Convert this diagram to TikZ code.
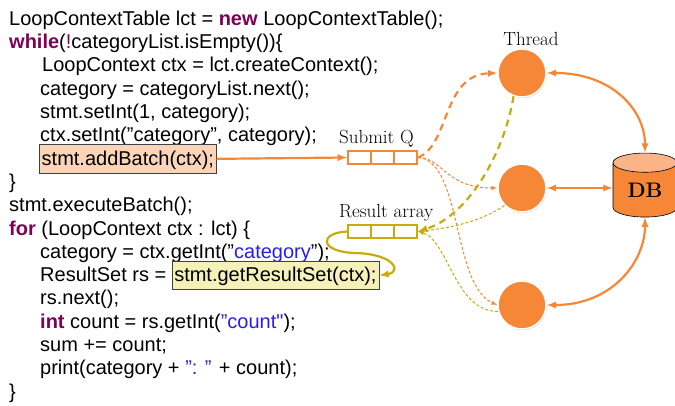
\documentclass[tikz,border=0pt]{standalone}
\usepackage{fontspec}
\usepackage{tikz}
\usetikzlibrary{shapes, shapes.geometric, arrows, positioning, shadows}
\newfontfamily\codefont{Liberation Sans}

\definecolor{thrOrange}{RGB}{245,135,55}
\definecolor{dbTop}{RGB}{250,180,135}
\definecolor{resOlive}{RGB}{200,172,10}
\definecolor{batchFill}{RGB}{252,213,185}
\definecolor{resFill}{RGB}{246,240,185}
\definecolor{kwPurple}{RGB}{127,0,85}
\definecolor{strBlue}{RGB}{40,30,235}
\newcommand{\kw}[1]{\textcolor{kwPurple}{\textbf{#1}}}
\newcommand{\str}[1]{\textcolor{strBlue}{#1}}

\tikzset{
  code/.style={anchor=base west, inner sep=0pt, font=\codefont\fontsize{20}{24}\selectfont},
  hlbox/.style={code, draw=black!75, inner xsep=2.5pt, inner ysep=0pt, text height=20.5pt, text depth=8pt},
  queue/.style={draw, line width=2pt, minimum width=69pt, minimum height=13pt, inner sep=0pt},
  qlabel/.style={anchor=base west, inner sep=0pt, font=\fontsize{19}{22}\selectfont},
  thread/.style={circle, fill=thrOrange, draw=white, line width=1.5pt, minimum size=48pt,
    drop shadow={shadow xshift=0.6pt, shadow yshift=-1.2pt, opacity=0.35}},
  flow/.style={line width=2.2pt, -latex},
  bigdash/.style={line width=2.2pt, dash pattern=on 7pt off 5pt, -latex},
  smalldash/.style={line width=1pt, dash pattern=on 3pt off 2pt, -latex}
}

\begin{document}
\begin{tikzpicture}[x=1pt, y=-1pt]
  \useasboundingbox (0,0) rectangle (675,405);

  % code
  \node[code] (l1) at (9, 25.3) {LoopContextTable lct = \kw{new} LoopContextTable();};
  \node[code] (l2) at (9, 48.6) {\kw{while}(\textcolor{kwPurple}{!}categoryList.isEmpty())\{};
  \node[code] (l3) at (42, 71.9) {LoopContext ctx = lct.createContext();};
  \node[code] (l4) at (40, 95.2) {category = categoryList.next();};
  \node[code] (l5) at (40, 118.5) {stmt.setInt(1, category);};
  \node[code] (l6) at (40, 141.8) {ctx.setInt(”category”, category);};
  \node[hlbox, fill=batchFill] (batch) at (39, 165.1) {stmt.addBatch(ctx);};
  \node[code] (l8) at (9, 188.4) {\}};
  \node[code] (l9) at (9, 211.7) {stmt.executeBatch();};
  \node[code] (l10) at (9, 235) {\kw{for} (LoopContext ctx : lct) \{};
  \node[code] (l11) at (40, 258.3) {category = ctx.getInt(”\str{category}”);};
  \node[code] (l12) at (40, 281.6) {ResultSet rs =};
  \node[hlbox, fill=resFill] (rsget) at ([xshift=5pt]l12.base east) {stmt.getResultSet(ctx);};
  \node[code] (l13) at (40, 304.9) {rs.next();};
  \node[code] (l14) at (40, 328.2) {\kw{int} count = rs.getInt(\str{”count"});};
  \node[code] (l15) at (40, 351.5) {sum += count;};
  \node[code] (l16) at (40, 374.8) {print(category + \str{”: ”} + count);};
  \node[code] (l17) at (9, 398.1) {\}};

  % queues
  \node[queue, draw=thrOrange, fill=white] (submitq) at (382.5, 157.5) {};
  \node[queue, draw=resOlive, fill=white] (resarr) at (382.5, 231.5) {};
  \foreach \dx in {-11.5, 11.5} {
    \draw[thrOrange, line width=2pt] ([xshift=\dx pt]submitq.north) -- ([xshift=\dx pt]submitq.south);
    \draw[resOlive, line width=2pt] ([xshift=\dx pt]resarr.north) -- ([xshift=\dx pt]resarr.south);
  }
  \node[qlabel] (sqlabel) at (339, 143) {Submit Q};
  \node[qlabel] (ralabel) at (339, 217) {Result array};

  % threads and database
  \node[thread] (t1) at (522, 73) {};
  \node[thread] (t2) at (522, 188) {};
  \node[thread] (t3) at (522, 305) {};
  \node[qlabel, anchor=base] (thrlabel) at (531, 45) {Thread};
  \node[cylinder, shape border rotate=90, aspect=0.55, draw=black, line width=0.6pt,
    cylinder uses custom fill, cylinder body fill=thrOrange, cylinder end fill=dbTop,
    minimum width=64pt, minimum height=64pt, inner sep=0pt,
    font=\bfseries\fontsize{21}{24}\selectfont] (db) at (645, 190) {DB};

  % submit
  \draw[flow, thrOrange] (batch.east) -- (submitq.west);
  \draw[bigdash, thrOrange] (submitq.east) .. controls (450,145) and (442,75) .. (t1.west);
  \draw[smalldash, thrOrange] (submitq.east) .. controls (442,157) and (445,188) .. (t2.west);
  \draw[smalldash, thrOrange] (submitq.east) .. controls (462,160) and (452,285) .. (t3.west);

  % results
  \draw[bigdash, resOlive] (t1.250) .. controls (505,150) and (470,215) .. (resarr.east);
  \draw[smalldash, resOlive] (t2.225) .. controls (480,222) and (450,228) .. (resarr.east);
  \draw[smalldash, resOlive] (t3.195) .. controls (455,312) and (448,240) .. (resarr.east);
  \draw[flow, resOlive] (resarr.west) .. controls (318,233) and (320,252) .. (355,253)
    .. controls (395,254) and (402,272) .. (rsget.east);

  % database access
  \draw[flow, latex-latex, thrOrange] (t1.east) .. controls (612,73) and (645,110) .. (db.north);
  \draw[flow, latex-latex, thrOrange] (t2.east) -- (t2.east -| db.west);
  \draw[flow, latex-latex, thrOrange] (t3.east) .. controls (612,305) and (645,262) .. (db.south);
\end{tikzpicture}
\end{document}
